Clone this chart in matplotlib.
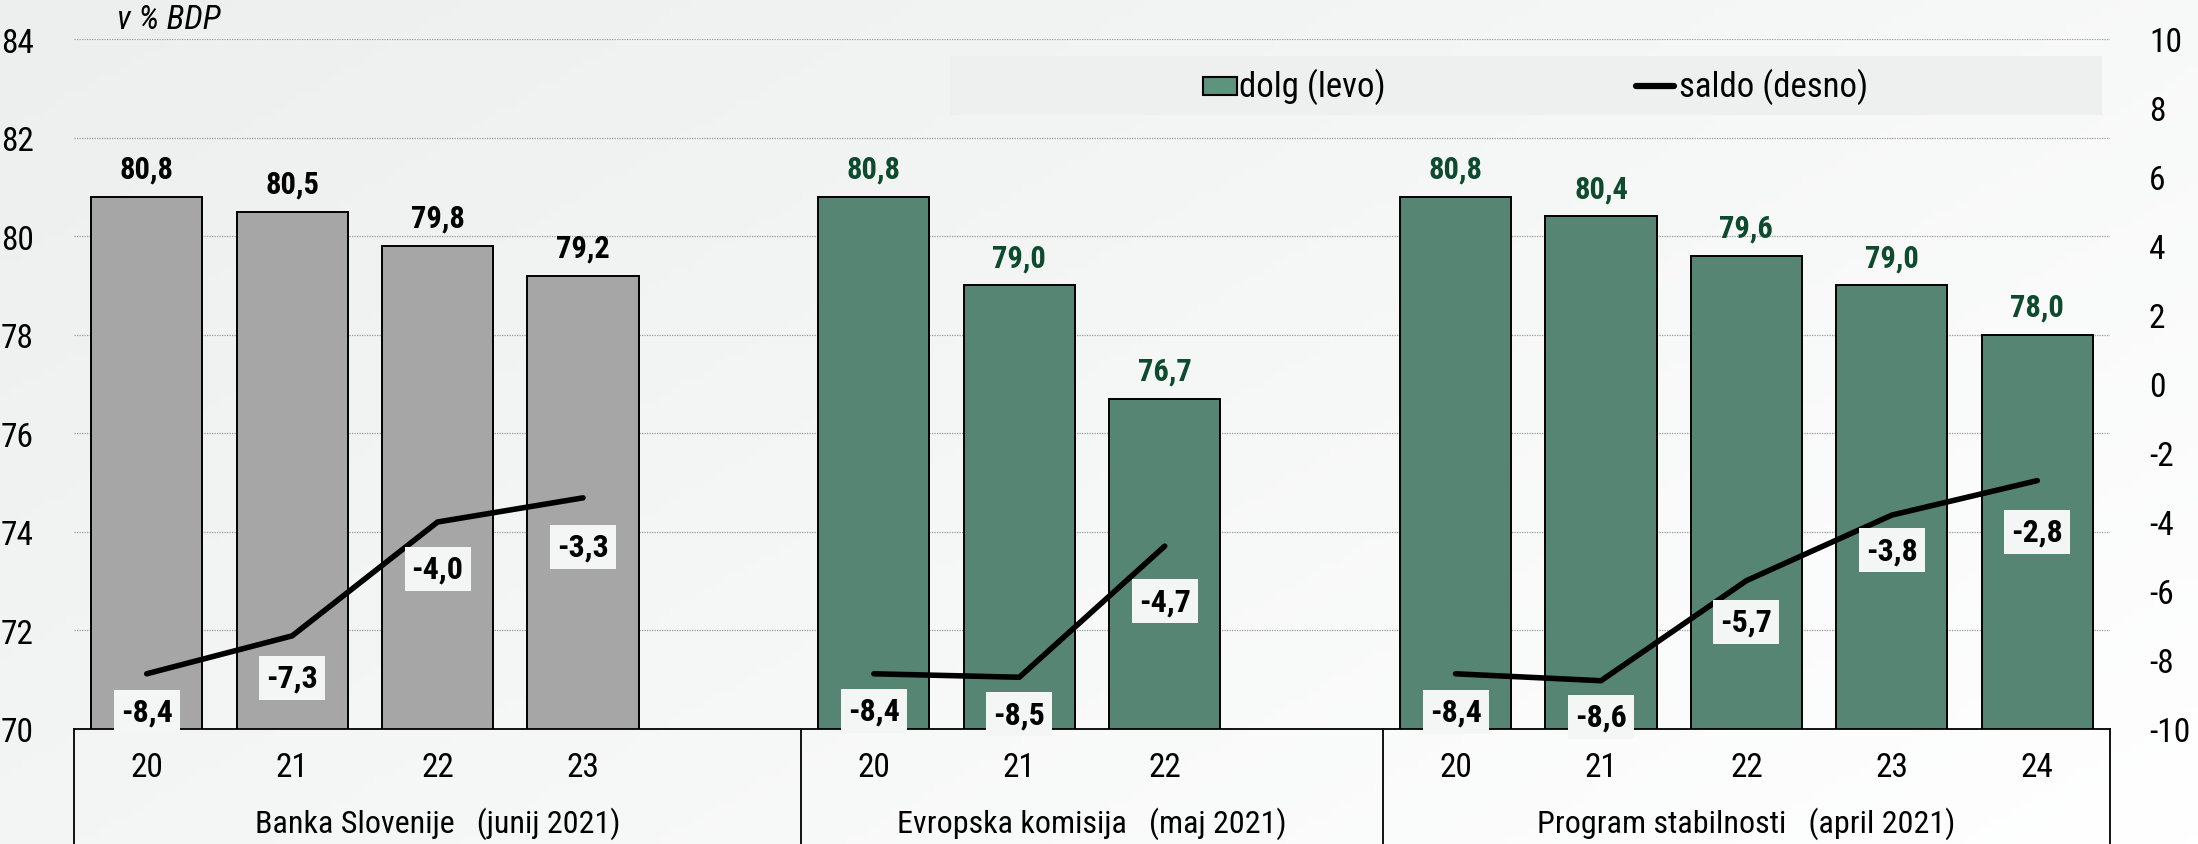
import numpy as np
import matplotlib
matplotlib.use("Agg")
import matplotlib.pyplot as plt
from matplotlib import font_manager as fm
from matplotlib.patches import Rectangle
from matplotlib.lines import Line2D
import matplotlib.transforms as mtransforms

# ---------------- data ----------------
groups = ["Banka Slovenije   (junij 2021)",
          "Evropska komisija   (maj 2021)",
          "Program stabilnosti   (april 2021)"]
years = [["20", "21", "22", "23"],
         ["20", "21", "22"],
         ["20", "21", "22", "23", "24"]]
dolg = [[80.8, 80.5, 79.8, 79.2],
        [80.8, 79.0, 76.7],
        [80.8, 80.4, 79.6, 79.0, 78.0]]
saldo = [[-8.4, -7.3, -4.0, -3.3],
         [-8.4, -8.5, -4.7],
         [-8.4, -8.6, -5.7, -3.8, -2.8]]
left_ticks = [70, 72, 74, 76, 78, 80, 82, 84]
right_ticks = [-10, -8, -6, -4, -2, 0, 2, 4, 6, 8, 10]

# ---------------- font choice (narrow if available) ----------------
fl = fm.fontManager.ttflist
names = {f.name for f in fl}
FONT, STRETCH, SCALE = 'Liberation Sans', 'normal', 1.0
for cand in ['Liberation Sans Narrow', 'Arial Narrow', 'Roboto Condensed',
             'Open Sans Condensed', 'Noto Sans Condensed']:
    if cand in names:
        FONT, STRETCH = cand, 'normal'
        break
else:
    if any(f.name == 'DejaVu Sans' and str(f.stretch) in ('condensed', 'semi-condensed')
           for f in fl):
        FONT, STRETCH, SCALE = 'DejaVu Sans', 'condensed', 0.9
    else:
        FONT, STRETCH, SCALE = 'Liberation Sans', 'normal', 0.92
plt.rcParams['font.family'] = [FONT, 'DejaVu Sans']
plt.rcParams['font.stretch'] = STRETCH


def fs(x):
    return x * SCALE


bar_colors = ['#A6A6A6', '#568574', '#568574']
val_colors = ['#000000', '#0E4A2E', '#0E4A2E']
label_drop_px = [[38, 42, 47, 49], [37, 37, 55], [38, 36, 41, 35, 51]]

W, H = 2198, 845
fig = plt.figure(figsize=(W / 100, H / 100), dpi=100)

# background gradient
bg = fig.add_axes([0, 0, 1, 1], zorder=-10)
gx, gy = np.meshgrid(np.linspace(0, 1, 200), np.linspace(0, 1, 100))
g = (gx * 0.6 + gy * 0.4)
c0 = np.array([0xEC, 0xEF, 0xEE]) / 255
c1 = np.array([0xFF, 0xFF, 0xFF]) / 255
img = c0[None, None, :] * (1 - g[..., None]) + c1[None, None, :] * g[..., None]
bg.imshow(img, aspect='auto', extent=[0, 1, 0, 1], origin='upper')
bg.set_axis_off()

axL, axR, axB, axT = 74, 2110, 730, 40
ax = fig.add_axes([axL / W, 1 - axB / H, (axR - axL) / W, (axB - axT) / H])
ax.set_facecolor('none')
ax2 = ax.twinx()

# positions
starts = []
pos = 0
for gi, ys in enumerate(years):
    starts.append(pos)
    pos += len(ys) + (1 if gi < len(years) - 1 else 0)
nslots = pos

for gi in range(len(groups)):
    xs = np.arange(len(years[gi])) + starts[gi]
    ax.bar(xs, dolg[gi], width=0.765, bottom=0, color=bar_colors[gi],
           edgecolor='black', linewidth=1.4, zorder=3)
    for x, v in zip(xs, dolg[gi]):
        ax.annotate(f"{v:.1f}".replace('.', ','), (x, v), xytext=(0, 19),
                    textcoords='offset pixels', ha='center', va='baseline',
                    fontsize=fs(22), fontweight='bold', color=val_colors[gi], zorder=6)
    ax2.plot(xs, saldo[gi], color='black', lw=4.0, solid_capstyle='round',
             solid_joinstyle='round', zorder=5)
    for x, v, d in zip(xs, saldo[gi], label_drop_px[gi]):
        ax2.annotate(f"{v:.1f}".replace('.', ','), (x, v), xytext=(0, -d),
                     textcoords='offset pixels', ha='center', va='center',
                     fontsize=fs(23), fontweight='bold', color='black', zorder=7,
                     bbox=dict(boxstyle='square,pad=0.22', fc='#F4F5F5', ec='none'))

ax.set_xlim(-0.5, nslots - 0.5)
ax.set_ylim(70, 84)
ax2.set_ylim(-10, 10)
ax.set_yticks(left_ticks)
ax2.set_yticks(right_ticks)
ax.set_yticklabels([str(t) for t in left_ticks], fontsize=fs(24))
ax2.set_yticklabels([str(t) for t in right_ticks], fontsize=fs(24), ha='left')
ax.tick_params(axis='y', length=0, pad=29)
ax2.tick_params(axis='y', length=0, pad=28)
ax.set_xticks([])
ax.grid(axis='y', color='#9A9A9A', linestyle=(0, (1, 1)), linewidth=0.9, zorder=0)
ax.set_axisbelow(True)
for a in (ax, ax2):
    for s in ('left', 'right', 'top', 'bottom'):
        a.spines[s].set_visible(False)
ax2.set_zorder(ax.get_zorder() + 1)
ax2.patch.set_visible(False)

# category axis (multi-level)
trans = mtransforms.blended_transform_factory(ax.transData, ax.transAxes)
ax.plot([-0.5, nslots - 0.5], [0, 0], transform=trans, color='black', lw=1.3,
        clip_on=False, zorder=8)
seps = [-0.5] + [s - 0.5 for s in starts[1:]] + [nslots - 0.5]
bottom_y = -(H - axB) / (axB - axT) - 0.01
for s in seps:
    ax.plot([s, s], [0, bottom_y], transform=trans, color='black', lw=1.3,
            clip_on=False)
ypx = (axB - axT)
for gi in range(len(groups)):
    for k, yl in enumerate(years[gi]):
        ax.text(starts[gi] + k, -38 / ypx, yl, transform=trans, ha='center',
                va='center', fontsize=fs(24))
    cx = (seps[gi] + seps[gi + 1]) / 2
    ax.text(cx, -94 / ypx, groups[gi], transform=trans, ha='center',
            va='center', fontsize=fs(23))

# unit label
fig.text(117 / W, 1 - 20 / H, "v % BDP", fontsize=fs(24), style='italic',
         ha='left', va='center')

# legend
fig.patches.append(Rectangle((950 / W, 1 - 116 / H), (2102 - 950) / W, 59 / H,
                             transform=fig.transFigure, fc='#EEF0EF', ec='none',
                             zorder=1))
fig.patches.append(Rectangle((1203 / W, 1 - 96 / H), 34 / W, 18 / H,
                             transform=fig.transFigure, fc='#5E937E',
                             ec='black', lw=1.5, zorder=2))
fig.text(1239 / W, 1 - 87 / H, "dolg (levo)", fontsize=fs(25), ha='left',
         va='center', zorder=3)
fig.lines.append(Line2D([1636 / W, 1674 / W], [1 - 87 / H, 1 - 87 / H],
                        transform=fig.transFigure, color='black', lw=4.5,
                        solid_capstyle='round', zorder=3))
fig.text(1679 / W, 1 - 87 / H, "saldo (desno)", fontsize=fs(25), ha='left',
         va='center', zorder=3)

fig.savefig("out.png", dpi=100)
